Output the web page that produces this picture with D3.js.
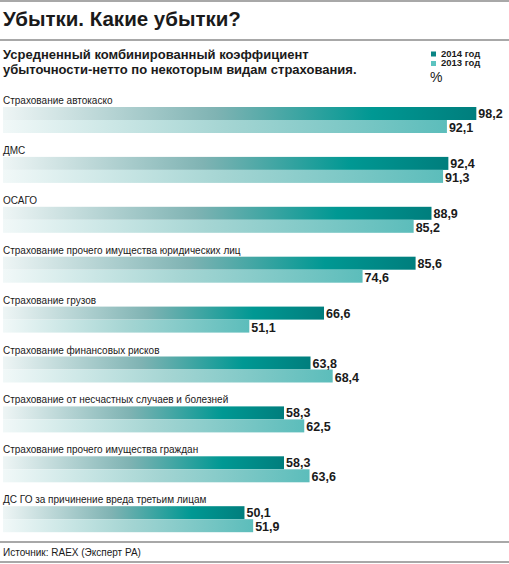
<!DOCTYPE html>
<html>
<head>
<meta charset="utf-8">
<script src="https://cdn.jsdelivr.net/npm/d3@7"></script>
<style>
  body { margin: 0; background: #fff; }
  text { font-family: "Liberation Sans", Arial, sans-serif; fill: #1a1a1a; }
</style>
</head>
<body>
<script>
/* -------------------------- Data -------------------------- */
const categories = [
  "Страхование автокаско",
  "ДМС",
  "ОСАГО",
  "Страхование прочего имущества юридических лиц",
  "Страхование грузов",
  "Страхование финансовых рисков",
  "Страхование от несчастных случаев и болезней",
  "Страхование прочего имущества граждан",
  "ДС ГО за причинение вреда третьим лицам"
];
const values2014 = [98.2, 92.4, 88.9, 85.6, 66.6, 63.8, 58.3, 58.3, 50.1];
const values2013 = [92.1, 91.3, 85.2, 74.6, 51.1, 68.4, 62.5, 63.6, 51.9];
const seriesNames = ["2014 год", "2013 год"];

/* -------------------------- Layout -------------------------- */
const width = 509, height = 564;
const barH = 13;
const fmt = v => String(v.toFixed(1)).replace(".", ",");

const svg = d3.select("body").append("svg")
  .attr("width", width)
  .attr("height", height);

// gradients: pale on the left, full colour toward the end of each bar
const defs = svg.append("defs");
const grads = [
  { id: "g2014", stops: [["0%", "#eef5f5"], ["45%", "#7fb3b3"], ["78%", "#009893"], ["100%", "#007e7d"]] },
  { id: "g2013", stops: [["0%", "#f1f8f8"], ["50%", "#a5d5d3"], ["100%", "#5cbdbb"]] }
];
grads.forEach(g => {
  const lg = defs.append("linearGradient").attr("id", g.id)
    .attr("x1", "0%").attr("x2", "100%").attr("y1", "0%").attr("y2", "0%");
  g.stops.forEach(s => lg.append("stop").attr("offset", s[0]).attr("stop-color", s[1]));
});

const x = d3.scaleLinear().domain([0, 100]).range([3, 3 + 482]);
const y = d3.scaleBand().domain(categories).range([90, 90 + 9 * 49.9]);

/* -------------------------- Header -------------------------- */
svg.append("line").attr("x1", 0).attr("x2", width).attr("y1", 1).attr("y2", 1)
  .attr("stroke", "#a8a8a8").attr("stroke-width", 2);
svg.append("text").attr("x", 3).attr("y", 26)
  .style("font-size", "20.5px").style("font-weight", "bold")
  .text("Убытки. Какие убытки?");
svg.append("line").attr("x1", 0).attr("x2", width).attr("y1", 40).attr("y2", 40)
  .attr("stroke", "#a8a8a8").attr("stroke-width", 2);

const sub = svg.append("text").style("font-size", "13px").style("font-weight", "bold");
sub.append("tspan").attr("x", 3).attr("y", 59).text("Усредненный комбинированный коэффициент");
sub.append("tspan").attr("x", 3).attr("y", 74).text("убыточности-нетто по некоторым видам страхования.");

// legend
const legendColors = ["#0a8585", "#5cc3c0"];
seriesNames.forEach((name, i) => {
  svg.append("rect").attr("x", 431).attr("y", 51.5 + i * 9.5).attr("width", 5).attr("height", 5)
    .attr("fill", legendColors[i]);
  svg.append("text").attr("x", 441).attr("y", 56.5 + i * 9.5)
    .style("font-size", "9.5px").style("font-weight", "bold").text(name);
});
svg.append("text").attr("x", 430).attr("y", 82).style("font-size", "14px").text("%");

/* -------------------------- Bars -------------------------- */
const rows = categories.map((c, i) => ({ cat: c, v14: values2014[i], v13: values2013[i] }));
const g = svg.selectAll("g.row").data(rows).enter().append("g")
  .attr("class", "row")
  .attr("transform", d => `translate(0,${y(d.cat)})`);

g.append("text").attr("x", 3).attr("y", 14)
  .style("font-size", "10px").text(d => d.cat);

g.append("rect").attr("x", x(0)).attr("y", 17)
  .attr("width", d => x(d.v14) - x(0)).attr("height", barH)
  .attr("fill", "url(#g2014)");
g.append("rect").attr("x", x(0)).attr("y", 17 + barH)
  .attr("width", d => x(d.v13) - x(0)).attr("height", barH)
  .attr("fill", "url(#g2013)");

g.append("text").attr("x", d => x(d.v14) + 2).attr("y", 17 + barH - 2)
  .style("font-size", "12.5px").style("font-weight", "bold").text(d => fmt(d.v14));
g.append("text").attr("x", d => x(d.v13) + 2).attr("y", 17 + 2 * barH - 1)
  .style("font-size", "12.5px").style("font-weight", "bold").text(d => fmt(d.v13));

/* -------------------------- Footer -------------------------- */
svg.append("line").attr("x1", 0).attr("x2", width).attr("y1", 542).attr("y2", 542)
  .attr("stroke", "#a8a8a8").attr("stroke-width", 2);
svg.append("text").attr("x", 3).attr("y", 556).style("font-size", "10px")
  .text("Источник: RAEX (Эксперт РА)");
svg.append("line").attr("x1", 0).attr("x2", width).attr("y1", 562).attr("y2", 562)
  .attr("stroke", "#a8a8a8").attr("stroke-width", 2);
</script>
</body>
</html>
